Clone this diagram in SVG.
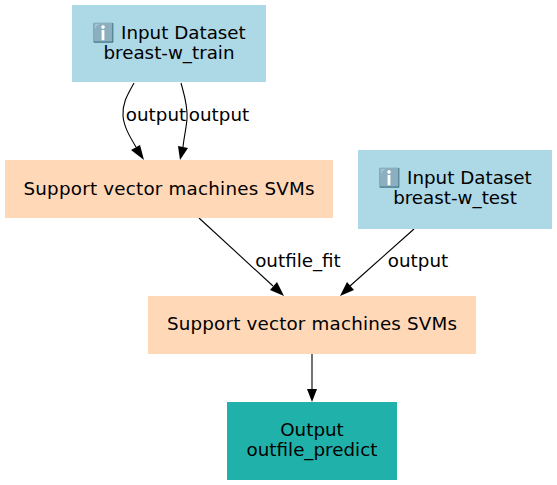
<svg xmlns="http://www.w3.org/2000/svg" width="557" height="485" viewBox="0 0 557 485">
<style>
text{font-family:"DejaVu Sans",sans-serif;font-size:18.3px;fill:#000;text-anchor:middle}
.e{fill:none;stroke:#000;stroke-width:1.1}
.a{fill:#000}
.i{fill:#add8e6}.s{fill:#ffd8b8}.o{fill:#20b2aa}
</style>
<g id="connectors">
<path class="e" d="M134 83C128 94 122 103 123 116C124 127 130 137 136 147"/><polygon class="a" points="144,160 131,150 140,145"/>
<path class="e" d="M181 83C184 94 188 106 187 119C186 130 184 137 183 147"/><polygon class="a" points="180,160 178,146 188,148"/>
<path class="e" d="M199 218L273 286"/><polygon class="a" points="284,296 270,290 277,282"/>
<path class="e" d="M414 229L350 286"/><polygon class="a" points="340,296 347,282 354,290"/>
<path class="e" d="M312 354V390"/><polygon class="a" points="312,402 307,389 317,389"/>
<text x="156" y="121">output</text><text x="219" y="121">output</text>
<text x="298" y="267">outfile_fit</text><text x="418" y="267">output</text>
</g>
<g id="n1"><rect class="i" x="72" y="5" width="194" height="77"/><text x="169" y="39">ℹ️ Input Dataset</text><text x="169" y="59">breast-w_train</text></g>
<g id="n2"><rect class="s" x="5" y="160" width="328" height="58"/><text x="169" y="195" textLength="291" lengthAdjust="spacing">Support vector machines SVMs</text></g>
<g id="n3"><rect class="i" x="358" y="150" width="194" height="79"/><text x="455" y="184">ℹ️ Input Dataset</text><text x="455" y="204">breast-w_test</text></g>
<g id="n4"><rect class="s" x="148" y="296" width="328" height="58"/><text x="312" y="330" textLength="290" lengthAdjust="spacing">Support vector machines SVMs</text></g>
<g id="n5"><rect class="o" x="227" y="402" width="170" height="78"/><text x="312" y="436">Output</text><text x="312" y="456">outfile_predict</text></g>
</svg>
